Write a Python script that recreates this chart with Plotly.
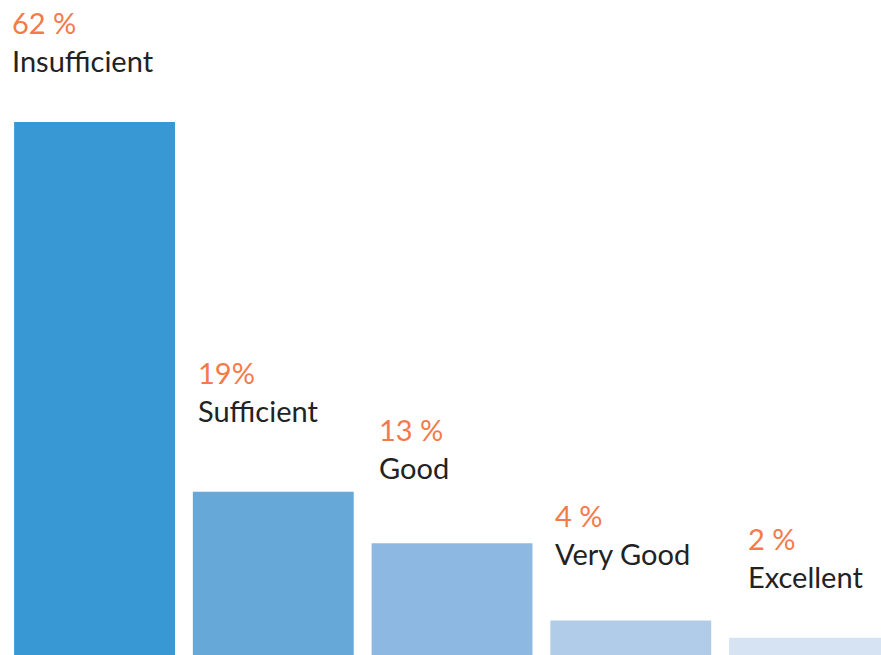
import plotly.graph_objects as go

# Rating distribution
categories = ["Insufficient", "Sufficient", "Good", "Very Good", "Excellent"]
shares = [62, 19, 13, 4, 2]
share_labels = ["62 %", "19%", "13 %", "4 %", "2 %"]

bar_colors = ["#3898D3", "#66A8D8", "#8DB8E2", "#B1CCE8", "#D5E3F3"]
label_xshift = [-3, 4, 6, 4, 18]
label_yshift = [43, 63, 57, 49, 43]

BAR_WIDTH = 0.9
xs = list(range(len(categories)))

fig = go.Figure(
    go.Bar(
        x=xs,
        y=shares,
        width=BAR_WIDTH,
        marker=dict(color=bar_colors, line=dict(width=0)),
        hoverinfo="skip",
    )
)

for i, (name, pct) in enumerate(zip(categories, share_labels)):
    fig.add_annotation(
        x=xs[i] - BAR_WIDTH / 2,
        y=shares[i],
        xref="x",
        yref="y",
        xanchor="left",
        yanchor="bottom",
        align="left",
        showarrow=False,
        xshift=label_xshift[i],
        yshift=label_yshift[i],
        borderpad=0,
        text=f"<span style='color:#F47A4A'>{pct}</span><br>{name}",
        font=dict(family="Lato", size=29, color="#222222"),
    )

fig.update_layout(
    width=881,
    height=655,
    margin=dict(l=0, r=0, t=0, b=0),
    paper_bgcolor="white",
    plot_bgcolor="white",
    showlegend=False,
    xaxis=dict(range=[-0.529, 4.400], visible=False, fixedrange=True),
    yaxis=dict(range=[0, 76.2], visible=False, fixedrange=True),
)

fig.write_html("out.html")
